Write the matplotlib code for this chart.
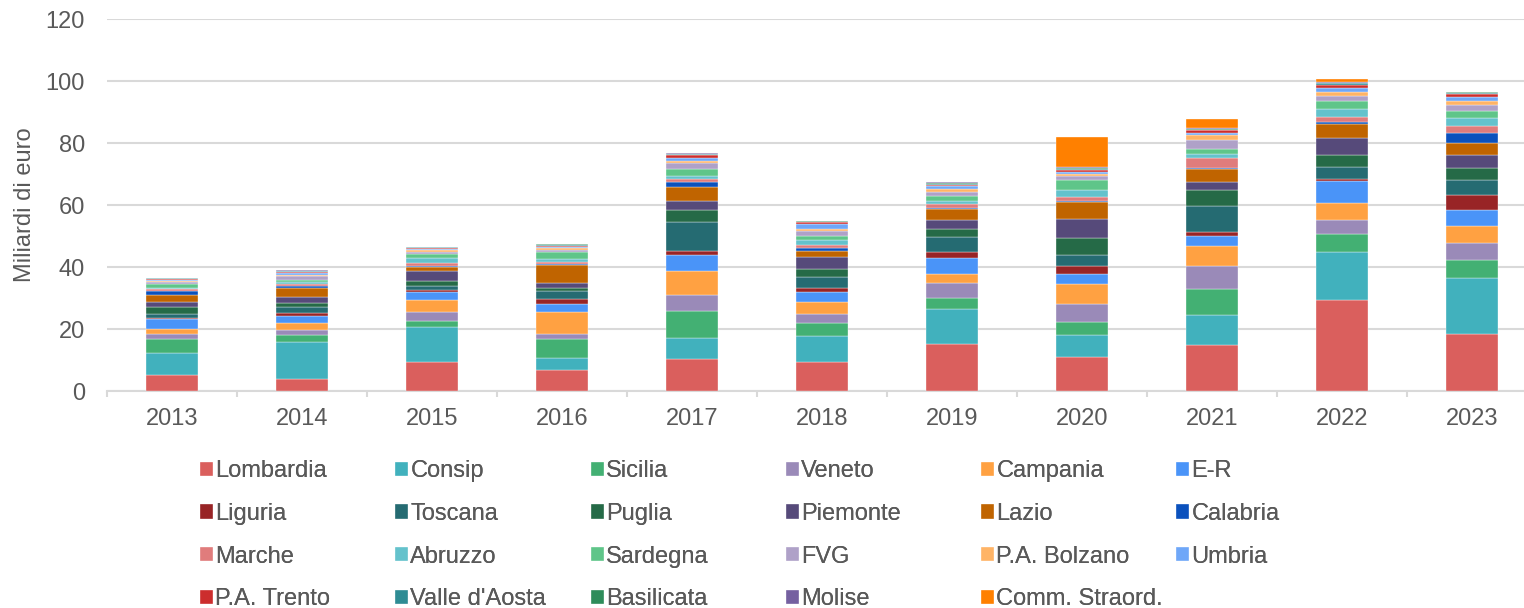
import numpy as np
import matplotlib
matplotlib.use("Agg")
import matplotlib.pyplot as plt

plt.rcParams['font.family'] = ['Liberation Sans', 'DejaVu Sans']

years = ['2013', '2014', '2015', '2016', '2017', '2018', '2019', '2020', '2021', '2022', '2023']

# miliardi di euro per soggetto aggregatore (dal basso verso l'alto)
lombardia = [5.2, 3.9, 9.5, 6.9, 10.2, 9.4, 15.1, 11.0, 14.7, 29.4, 18.3]
consip = [7.2, 12.0, 11.2, 3.8, 6.9, 8.2, 11.5, 7.0, 9.9, 15.5, 18.1]
sicilia = [4.4, 2.3, 1.9, 6.1, 8.8, 4.3, 3.3, 4.4, 8.2, 5.6, 6.0]
veneto = [1.5, 1.5, 3.0, 1.7, 5.2, 3.0, 4.9, 5.6, 7.6, 4.7, 5.4]
campania = [1.8, 2.3, 3.8, 7.0, 7.6, 3.7, 2.8, 6.5, 6.5, 5.3, 5.5]
emilia_romagna = [3.1, 2.2, 2.5, 2.7, 5.3, 3.4, 5.3, 3.2, 3.1, 7.1, 5.2]
liguria = [0.4, 1.1, 0.7, 1.5, 1.1, 1.3, 1.8, 2.6, 1.2, 0.9, 4.8]
toscana = [1.2, 1.9, 1.4, 2.6, 9.3, 3.6, 5.0, 3.5, 8.4, 3.9, 4.7]
puglia = [2.3, 1.2, 1.5, 0.9, 3.9, 2.5, 2.6, 5.7, 5.1, 3.8, 4.0]
piemonte = [1.6, 2.0, 3.2, 1.7, 2.9, 3.8, 2.8, 5.9, 2.8, 5.5, 4.0]
lazio = [2.3, 2.9, 1.2, 5.6, 4.7, 2.0, 3.7, 5.6, 4.0, 4.5, 4.0]
calabria = [1.3, 0.7, 0.5, 0.5, 1.5, 0.8, 0.2, 0.3, 0.5, 0.7, 3.1]
marche = [0.5, 0.6, 0.8, 0.5, 1.1, 1.2, 1.4, 1.2, 3.1, 1.5, 2.5]
abruzzo = [0.5, 0.6, 1.8, 1.0, 0.9, 1.4, 0.9, 2.2, 1.4, 2.5, 2.6]
sardegna = [1.3, 0.6, 1.3, 2.3, 2.3, 1.4, 1.7, 3.4, 1.5, 2.6, 2.2]
fvg = [0.5, 1.3, 0.5, 0.7, 1.9, 1.5, 1.3, 1.4, 3.1, 1.7, 1.9]
bolzano = [0.5, 0.4, 0.6, 0.5, 0.6, 0.9, 0.9, 0.6, 1.4, 1.3, 1.2]
umbria = [0.3, 0.5, 0.4, 0.4, 1.1, 1.6, 1.0, 0.6, 0.8, 1.2, 1.2]
trento = [0.2, 0.3, 0.3, 0.3, 0.7, 0.4, 0.4, 0.7, 0.8, 1.1, 1.1]
valle_aosta = [0.2, 0.3, 0.2, 0.3, 0.3, 0.2, 0.3, 0.3, 0.2, 0.4, 0.3]
basilicata = [0.1, 0.2, 0.2, 0.3, 0.3, 0.2, 0.3, 0.3, 0.2, 0.3, 0.3]
molise = [0.1, 0.2, 0.1, 0.2, 0.2, 0.2, 0.2, 0.2, 0.2, 0.3, 0.1]
comm_straord = [0, 0, 0, 0, 0, 0, 0, 9.6, 3.1, 0.7, 0]

labels = ['Lombardia', 'Consip', 'Sicilia', 'Veneto', 'Campania', 'E-R',
          'Liguria', 'Toscana', 'Puglia', 'Piemonte', 'Lazio', 'Calabria',
          'Marche', 'Abruzzo', 'Sardegna', 'FVG', 'P.A. Bolzano', 'Umbria',
          'P.A. Trento', "Valle d'Aosta", 'Basilicata', 'Molise', 'Comm. Straord.']
series = [lombardia, consip, sicilia, veneto, campania, emilia_romagna,
          liguria, toscana, puglia, piemonte, lazio, calabria,
          marche, abruzzo, sardegna, fvg, bolzano, umbria,
          trento, valle_aosta, basilicata, molise, comm_straord]
colors = ['#DA5F5D', '#41B1BD', '#43B073', '#9A8AB8', '#FFA142', '#4A94F8',
          '#982426', '#256B72', '#256A47', '#564A7A', '#C06400', '#0B51BD',
          '#E07C7C', '#64C2CC', '#5FC589', '#AFA1C8', '#FFB466', '#6FA7F8',
          '#CC2D2D', '#2E8C94', '#2E8C5A', '#7560A0', '#FF8000']

txt = '#595959'
grid = '#D9D9D9'

fig = plt.figure(figsize=(15.24, 6.08), dpi=100)
ax = fig.add_axes([107 / 1524, 1 - 391 / 608, (1524 - 107) / 1524, 372 / 608])

x = np.arange(len(years))
bottom = np.zeros(len(years))
handles = []
for lab, vals, col in zip(labels, series, colors):
    b = ax.bar(x, vals, 0.4, bottom=bottom, color=col, label=lab,
               edgecolor='white', linewidth=0.25, zorder=3)
    handles.append(b)
    bottom += np.array(vals)

ax.set_yticks(range(0, 121, 20))
ax.set_xticks(x)
ax.set_xticklabels(years)
ax.set_xticks(np.arange(-0.5, 10.6, 1), minor=True)
ax.set_ylim(0, 120)
ax.set_xlim(-0.5, 10.4)
ax.yaxis.grid(True, color=grid, linewidth=1.5, zorder=0)
ax.set_axisbelow(True)
for s in ['top', 'right', 'left']:
    ax.spines[s].set_visible(False)
ax.spines['bottom'].set_color(grid)
ax.spines['bottom'].set_linewidth(1.5)
ax.tick_params(axis='y', length=0, pad=16, labelsize=17, labelcolor=txt)
ax.tick_params(axis='x', which='major', length=0, pad=12, labelsize=17, labelcolor=txt)
ax.tick_params(axis='x', which='minor', length=4, width=1.5, color=grid)

fig.text(25 / 1524, 1 - 205 / 608, 'Miliardi di euro', rotation=90,
         ha='center', va='center', fontsize=17, color=txt)

# legenda: 6 colonne, riempite per riga
col_x = [200, 395, 591, 786, 981, 1176]
for c in range(6):
    idx = list(range(c, len(labels), 6))
    leg = fig.legend([handles[i] for i in idx], [labels[i] for i in idx],
                     loc='upper left', bbox_to_anchor=(col_x[c] / 1524, 1 - 460 / 608),
                     ncol=1, frameon=False, fontsize=17, labelcolor=txt,
                     handlelength=0.55, handleheight=0.55, handletextpad=0.1,
                     labelspacing=0.88, borderpad=0, borderaxespad=0)
    fig.add_artist(leg)

fig.savefig('out.png', dpi=100)
